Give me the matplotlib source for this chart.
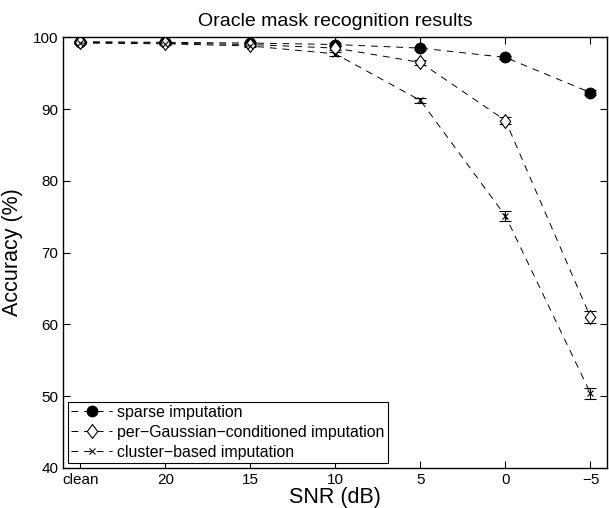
import matplotlib
matplotlib.use("Agg")
import matplotlib.pyplot as plt
from matplotlib.path import Path
import numpy as np

plt.rcParams['font.family'] = ['Liberation Sans', 'DejaVu Sans']

# SNR conditions
snr_labels = ['clean', '20', '15', '10', '5', '0', '\u22125']

# Accuracy (%) for each method
sparse = [99.4, 99.3, 99.2, 99.0, 98.5, 97.2, 92.3]
sparse_err = [0.15, 0.15, 0.15, 0.2, 0.2, 0.2, 0.3]

per_gauss = [99.3, 99.2, 99.0, 98.5, 96.5, 88.4, 61.0]
per_gauss_err = [0.15, 0.15, 0.2, 0.3, 0.4, 0.5, 0.85]

cluster = [99.2, 99.1, 98.8, 97.7, 91.2, 75.1, 50.4]
cluster_err = [0.15, 0.15, 0.2, 0.3, 0.4, 0.7, 0.8]

x = np.arange(len(snr_labels))

# matlab-like diamond (a bit wider than 'd')
diamond = Path([(0, 1), (0.75, 0), (0, -1), (-0.75, 0), (0, 1)],
               [Path.MOVETO, Path.LINETO, Path.LINETO, Path.LINETO, Path.CLOSEPOLY])

fig = plt.figure(figsize=(6.09, 5.08), dpi=100)
ax = fig.add_axes([0.104, 0.079, 0.8935, 0.8475])

dash = (0, (7, 6))
ax.errorbar(x, sparse, yerr=sparse_err, color='k', linestyle=dash, linewidth=0.7,
            marker='o', markersize=7.5, markerfacecolor='k', capsize=4, elinewidth=0.8,
            label='sparse imputation')
ax.errorbar(x, per_gauss, yerr=per_gauss_err, color='k', linestyle=dash, linewidth=0.7,
            marker=diamond, markersize=10, markerfacecolor='white', markeredgewidth=0.8,
            capsize=4, elinewidth=0.8, label='per\u2212Gaussian\u2212conditioned imputation')
ax.errorbar(x, cluster, yerr=cluster_err, color='k', linestyle=dash, linewidth=0.7,
            marker='x', markersize=5, markeredgewidth=0.8, capsize=4, elinewidth=0.8,
            label='cluster\u2212based imputation')

ax.set_xlim(-0.2, 6.2)
ax.set_ylim(40, 100)
ax.set_xticks(x)
ax.set_xticklabels(snr_labels)
ax.set_yticks(np.arange(40, 101, 10))
ax.tick_params(direction='in', top=True, right=True, labelsize=11, length=5, width=0.8)
for s in ax.spines.values():
    s.set_linewidth(1.0)

ax.set_xlabel('SNR (dB)', fontsize=15.5, labelpad=0)
ax.set_ylabel('Accuracy (%)', fontsize=15.5, labelpad=7)
ax.set_title('Oracle mask recognition results', fontsize=14, pad=8)

handles, labels = ax.get_legend_handles_labels()
handles = [h[0] for h in handles]
leg = ax.legend(handles, labels, loc='lower left', fontsize=11.4, fancybox=False,
                edgecolor='k', framealpha=1, handlelength=2.6, handletextpad=0.3,
                borderaxespad=0.3, borderpad=0.2, labelspacing=0.32)
leg.get_frame().set_linewidth(0.8)

fig.savefig('out.png', dpi=100)
